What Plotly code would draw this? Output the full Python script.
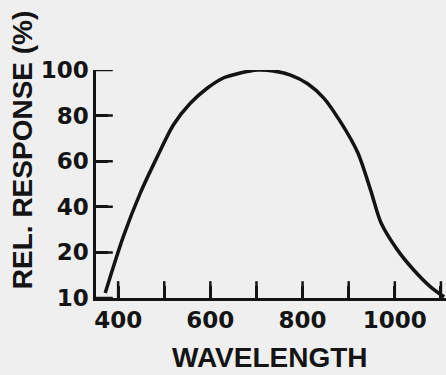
import plotly.graph_objects as go

# Data
wavelength = [372, 411, 448, 485, 520, 557, 593, 628, 665, 702, 737, 774, 811, 846, 883, 920, 948, 970, 1006, 1041, 1078, 1107]
response = [2.2, 26.8, 46, 62, 76, 85.5, 92, 96.5, 98.7, 100, 99.6, 97.8, 94, 87.7, 77, 63.6, 47, 33, 21, 12.3, 4.8, 0.5]

x_tickvals = [400, 500, 600, 700, 800, 900, 1000, 1100]
x_ticktext = ["400", "", "600", "", "800", "", "1000", ""]
y_tickvals = [0, 20, 40, 60, 80, 100]
y_ticktext = ["10", "20", "40", "60", "80", "100"]

x_range = [352, 1111]
y_range = [0, 100]

ink = "#141414"
bg = "#efefef"
tickfont = dict(family="DejaVu Sans", size=23, color=ink, weight="bold")
titlefont = dict(family="Liberation Sans", size=28, color=ink, weight="bold")

fig = go.Figure()
fig.add_trace(go.Scatter(
    x=wavelength, y=response, mode="lines",
    line=dict(color=ink, width=3.5, shape="spline", smoothing=0.8),
    cliponaxis=False, showlegend=False, hoverinfo="skip",
))
# Inward tick marks, placed on the axes at the tick values (half clipped by the plot area)
fig.add_trace(go.Scatter(
    x=x_tickvals, y=[y_range[0]] * len(x_tickvals), mode="markers",
    marker=dict(symbol="line-ns", size=24, line=dict(color=ink, width=2.5)),
    cliponaxis=True, showlegend=False, hoverinfo="skip",
))
fig.add_trace(go.Scatter(
    x=[x_range[0]] * len(y_tickvals), y=y_tickvals, mode="markers",
    marker=dict(symbol="line-ew", size=24, line=dict(color=ink, width=2.5)),
    cliponaxis=True, showlegend=False, hoverinfo="skip",
))

axis_common = dict(
    showgrid=False, zeroline=False,
    showline=True, linecolor=ink, linewidth=2.5,
    ticks="inside", ticklen=12, tickwidth=2.5, tickcolor=ink,
    tickfont=tickfont,
)

fig.update_layout(
    width=446, height=375,
    margin=dict(l=96, r=0, t=70, b=77),
    paper_bgcolor=bg, plot_bgcolor=bg,
    xaxis=dict(range=x_range, tickvals=x_tickvals, ticktext=x_ticktext, **axis_common),
    yaxis=dict(range=y_range, tickvals=y_tickvals, ticktext=y_ticktext, **axis_common),
    annotations=[
        dict(text="WAVELENGTH", xref="paper", yref="paper",
             x=0.497, y=-0.262, xanchor="center", yanchor="middle",
             showarrow=False, font=titlefont),
        dict(text="REL. RESPONSE (%)", xref="paper", yref="paper",
             x=-0.211, y=0.649, xanchor="center", yanchor="middle",
             textangle=-90, showarrow=False, font=titlefont),
    ],
)

fig.write_html("out.html")
